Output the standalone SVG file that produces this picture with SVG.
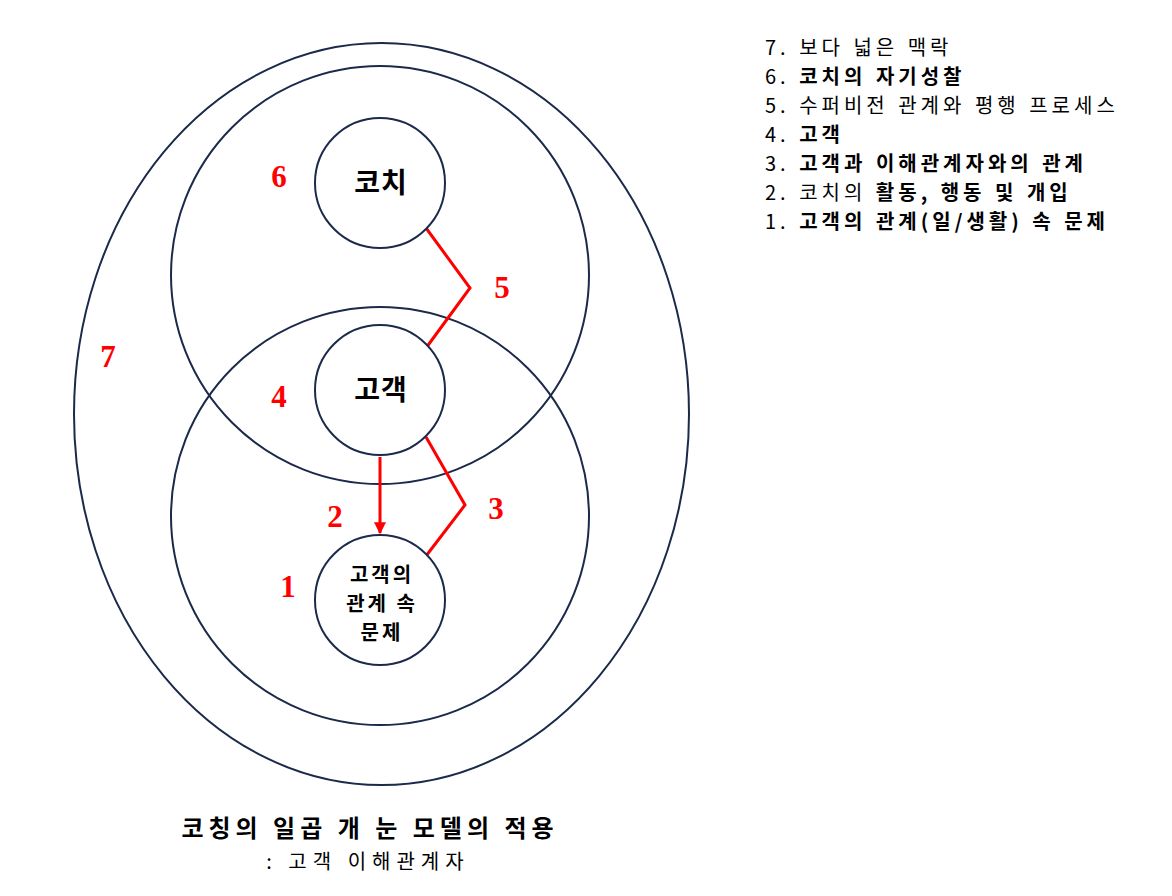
<svg xmlns="http://www.w3.org/2000/svg" width="1172" height="896" viewBox="0 0 1172 896">
<defs>
<style>
.ring{fill:none;stroke:#1b2a4a;stroke-width:2}
.node{fill:#fff;stroke:#1b2a4a;stroke-width:2}
.red{fill:none;stroke:#ff0000;stroke-width:3}
.num{font-family:"Liberation Serif",serif;font-weight:bold;font-size:31px;fill:#ff0000;text-anchor:middle}
.kr{font-family:"Noto Sans CJK KR","Noto Sans",sans-serif;fill:#000}
.nt{font-weight:bold;text-anchor:middle}
.leg{font-size:20px;letter-spacing:4px;word-spacing:1px}
.b{font-weight:bold}
</style>
<marker id="arr" viewBox="0 0 10 10" refX="9" refY="5" markerWidth="4" markerHeight="4" orient="auto" markerUnits="strokeWidth">
<path d="M0,0 L10,5 L0,10 z" fill="#ff0000"/>
</marker>
</defs>
<rect width="1172" height="896" fill="#fff"/>
<g id="ring7"><ellipse class="ring" cx="381.5" cy="414" rx="307.5" ry="371"/></g>
<g id="ring-upper"><circle class="ring" cx="380" cy="275" r="209"/></g>
<g id="ring-lower"><circle class="ring" cx="380" cy="516" r="209"/></g>
<g id="connectors">
<polyline class="red" points="426,228 470,288 426,348"/>
<polyline class="red" points="426,437 465,505 426,556"/>
<line class="red" x1="380" y1="457" x2="380" y2="533" marker-end="url(#arr)"/>
</g>
<g id="node-coach"><circle class="node" cx="380" cy="183" r="65"/><text class="kr nt" x="381" y="193" font-size="28" letter-spacing="1">코치</text></g>
<g id="node-client"><circle class="node" cx="380" cy="390" r="65"/><text class="kr nt" x="381" y="400" font-size="28" letter-spacing="1">고객</text></g>
<g id="node-problem"><circle class="node" cx="380" cy="600" r="65"/>
<text class="kr nt" font-size="20" letter-spacing="3"><tspan x="382" y="582">고객의</tspan><tspan x="382" y="611">관계 속</tspan><tspan x="382" y="640">문제</tspan></text></g>
<g id="labels">
<text class="num" x="279" y="187">6</text>
<text class="num" x="502" y="298">5</text>
<text class="num" x="108" y="367">7</text>
<text class="num" x="279" y="407">4</text>
<text class="num" x="335" y="527">2</text>
<text class="num" x="496" y="519">3</text>
<text class="num" x="288" y="597">1</text>
</g>
<g id="legend" class="kr leg">
<text x="765" y="55">7. 보다 넓은 맥락</text>
<text x="765" y="84">6. <tspan class="b">코치의 자기성찰</tspan></text>
<text x="765" y="113">5. 수퍼비전 관계와 평행 프로세스</text>
<text x="765" y="142">4. <tspan class="b">고객</tspan></text>
<text x="765" y="171">3. <tspan class="b">고객과 이해관계자와의 관계</tspan></text>
<text x="765" y="200">2. 코치의 <tspan class="b">활동, 행동 및 개입</tspan></text>
<text x="765" y="229">1. <tspan class="b">고객의 관계(일/생활) 속 문제</tspan></text>
</g>
<g id="title" class="kr">
<text x="370" y="837" font-size="24" font-weight="bold" letter-spacing="5" text-anchor="middle">코칭의 일곱 개 눈 모델의 적용</text>
<text x="368" y="869" font-size="20" letter-spacing="6" text-anchor="middle">: 고객 이해관계자</text>
</g>
</svg>
